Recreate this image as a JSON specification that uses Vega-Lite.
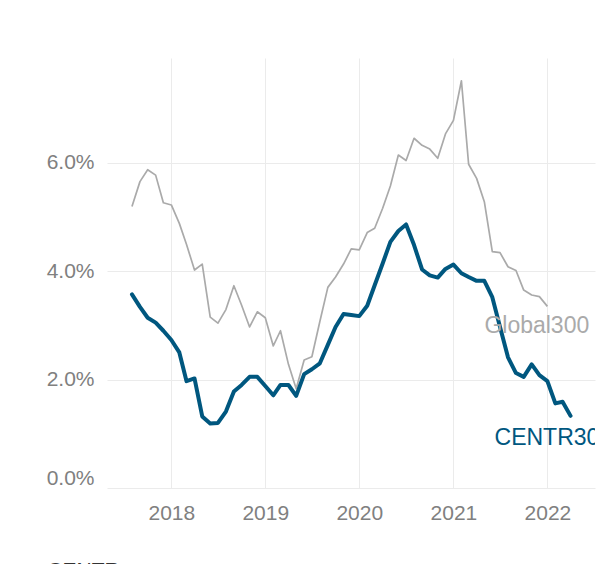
{
  "$schema": "https://vega.github.io/schema/vega-lite/v6.json",
  "width": 488,
  "height": 430,
  "autosize": {"type": "none"},
  "padding": {"left": 107, "top": 58, "right": 8, "bottom": 76},
  "background": "#ffffff",
  "title": {
    "text": "Source: CENTR",
    "orient": "bottom",
    "anchor": "start",
    "dx": -77,
    "offset": 37,
    "fontSize": 21,
    "fontWeight": "normal",
    "font": "Liberation Sans",
    "color": "#333333"
  },
  "config": {
    "view": {"stroke": null},
    "axis": {
      "grid": true,
      "gridColor": "#ebebeb",
      "gridWidth": 1,
      "domain": false,
      "ticks": false,
      "tickSize": 0,
      "labelColor": "#808080",
      "labelFont": "Liberation Sans",
      "labelFontSize": 21,
      "title": null
    }
  },
  "data": {
    "values": [
      {"date": "2017-08-01", "series": "Global300", "value": 5.19},
      {"date": "2017-09-01", "series": "Global300", "value": 5.65},
      {"date": "2017-10-01", "series": "Global300", "value": 5.87},
      {"date": "2017-11-01", "series": "Global300", "value": 5.77},
      {"date": "2017-12-01", "series": "Global300", "value": 5.26},
      {"date": "2018-01-01", "series": "Global300", "value": 5.22},
      {"date": "2018-02-01", "series": "Global300", "value": 4.88},
      {"date": "2018-03-01", "series": "Global300", "value": 4.49},
      {"date": "2018-04-01", "series": "Global300", "value": 4.02},
      {"date": "2018-05-01", "series": "Global300", "value": 4.13},
      {"date": "2018-06-01", "series": "Global300", "value": 3.15},
      {"date": "2018-07-01", "series": "Global300", "value": 3.04},
      {"date": "2018-08-01", "series": "Global300", "value": 3.29},
      {"date": "2018-09-01", "series": "Global300", "value": 3.73},
      {"date": "2018-10-01", "series": "Global300", "value": 3.37},
      {"date": "2018-11-01", "series": "Global300", "value": 2.97},
      {"date": "2018-12-01", "series": "Global300", "value": 3.25},
      {"date": "2019-01-01", "series": "Global300", "value": 3.14},
      {"date": "2019-02-01", "series": "Global300", "value": 2.62},
      {"date": "2019-03-01", "series": "Global300", "value": 2.90},
      {"date": "2019-04-01", "series": "Global300", "value": 2.28},
      {"date": "2019-05-01", "series": "Global300", "value": 1.83},
      {"date": "2019-06-01", "series": "Global300", "value": 2.36},
      {"date": "2019-07-01", "series": "Global300", "value": 2.42},
      {"date": "2019-08-01", "series": "Global300", "value": 3.07},
      {"date": "2019-09-01", "series": "Global300", "value": 3.70},
      {"date": "2019-10-01", "series": "Global300", "value": 3.89},
      {"date": "2019-11-01", "series": "Global300", "value": 4.13},
      {"date": "2019-12-01", "series": "Global300", "value": 4.41},
      {"date": "2020-01-01", "series": "Global300", "value": 4.39},
      {"date": "2020-02-01", "series": "Global300", "value": 4.71},
      {"date": "2020-03-01", "series": "Global300", "value": 4.79},
      {"date": "2020-04-01", "series": "Global300", "value": 5.16},
      {"date": "2020-05-01", "series": "Global300", "value": 5.57},
      {"date": "2020-06-01", "series": "Global300", "value": 6.14},
      {"date": "2020-07-01", "series": "Global300", "value": 6.04},
      {"date": "2020-08-01", "series": "Global300", "value": 6.45},
      {"date": "2020-09-01", "series": "Global300", "value": 6.32},
      {"date": "2020-10-01", "series": "Global300", "value": 6.25},
      {"date": "2020-11-01", "series": "Global300", "value": 6.08},
      {"date": "2020-12-01", "series": "Global300", "value": 6.53},
      {"date": "2021-01-01", "series": "Global300", "value": 6.78},
      {"date": "2021-02-01", "series": "Global300", "value": 7.51},
      {"date": "2021-03-01", "series": "Global300", "value": 5.97},
      {"date": "2021-04-01", "series": "Global300", "value": 5.71},
      {"date": "2021-05-01", "series": "Global300", "value": 5.28},
      {"date": "2021-06-01", "series": "Global300", "value": 4.36},
      {"date": "2021-07-01", "series": "Global300", "value": 4.34},
      {"date": "2021-08-01", "series": "Global300", "value": 4.08},
      {"date": "2021-09-01", "series": "Global300", "value": 4.01},
      {"date": "2021-10-01", "series": "Global300", "value": 3.65},
      {"date": "2021-11-01", "series": "Global300", "value": 3.56},
      {"date": "2021-12-01", "series": "Global300", "value": 3.53},
      {"date": "2022-01-01", "series": "Global300", "value": 3.35},
      {"date": "2017-08-01", "series": "CENTR300", "value": 3.57},
      {"date": "2017-09-01", "series": "CENTR300", "value": 3.34},
      {"date": "2017-10-01", "series": "CENTR300", "value": 3.14},
      {"date": "2017-11-01", "series": "CENTR300", "value": 3.05},
      {"date": "2017-12-01", "series": "CENTR300", "value": 2.90},
      {"date": "2018-01-01", "series": "CENTR300", "value": 2.73},
      {"date": "2018-02-01", "series": "CENTR300", "value": 2.50},
      {"date": "2018-03-01", "series": "CENTR300", "value": 1.97},
      {"date": "2018-04-01", "series": "CENTR300", "value": 2.02},
      {"date": "2018-05-01", "series": "CENTR300", "value": 1.32},
      {"date": "2018-06-01", "series": "CENTR300", "value": 1.19},
      {"date": "2018-07-01", "series": "CENTR300", "value": 1.20},
      {"date": "2018-08-01", "series": "CENTR300", "value": 1.41},
      {"date": "2018-09-01", "series": "CENTR300", "value": 1.78},
      {"date": "2018-10-01", "series": "CENTR300", "value": 1.90},
      {"date": "2018-11-01", "series": "CENTR300", "value": 2.05},
      {"date": "2018-12-01", "series": "CENTR300", "value": 2.05},
      {"date": "2019-01-01", "series": "CENTR300", "value": 1.88},
      {"date": "2019-02-01", "series": "CENTR300", "value": 1.71},
      {"date": "2019-03-01", "series": "CENTR300", "value": 1.90},
      {"date": "2019-04-01", "series": "CENTR300", "value": 1.90},
      {"date": "2019-05-01", "series": "CENTR300", "value": 1.70},
      {"date": "2019-06-01", "series": "CENTR300", "value": 2.10},
      {"date": "2019-07-01", "series": "CENTR300", "value": 2.19},
      {"date": "2019-08-01", "series": "CENTR300", "value": 2.30},
      {"date": "2019-09-01", "series": "CENTR300", "value": 2.64},
      {"date": "2019-10-01", "series": "CENTR300", "value": 2.97},
      {"date": "2019-11-01", "series": "CENTR300", "value": 3.21},
      {"date": "2019-12-01", "series": "CENTR300", "value": 3.19},
      {"date": "2020-01-01", "series": "CENTR300", "value": 3.17},
      {"date": "2020-02-01", "series": "CENTR300", "value": 3.36},
      {"date": "2020-03-01", "series": "CENTR300", "value": 3.74},
      {"date": "2020-04-01", "series": "CENTR300", "value": 4.14},
      {"date": "2020-05-01", "series": "CENTR300", "value": 4.54},
      {"date": "2020-06-01", "series": "CENTR300", "value": 4.74},
      {"date": "2020-07-01", "series": "CENTR300", "value": 4.86},
      {"date": "2020-08-01", "series": "CENTR300", "value": 4.48},
      {"date": "2020-09-01", "series": "CENTR300", "value": 4.03},
      {"date": "2020-10-01", "series": "CENTR300", "value": 3.92},
      {"date": "2020-11-01", "series": "CENTR300", "value": 3.88},
      {"date": "2020-12-01", "series": "CENTR300", "value": 4.04},
      {"date": "2021-01-01", "series": "CENTR300", "value": 4.12},
      {"date": "2021-02-01", "series": "CENTR300", "value": 3.96},
      {"date": "2021-03-01", "series": "CENTR300", "value": 3.89},
      {"date": "2021-04-01", "series": "CENTR300", "value": 3.82},
      {"date": "2021-05-01", "series": "CENTR300", "value": 3.82},
      {"date": "2021-06-01", "series": "CENTR300", "value": 3.52},
      {"date": "2021-07-01", "series": "CENTR300", "value": 2.97},
      {"date": "2021-08-01", "series": "CENTR300", "value": 2.41},
      {"date": "2021-09-01", "series": "CENTR300", "value": 2.12},
      {"date": "2021-10-01", "series": "CENTR300", "value": 2.05},
      {"date": "2021-11-01", "series": "CENTR300", "value": 2.28},
      {"date": "2021-12-01", "series": "CENTR300", "value": 2.08},
      {"date": "2022-01-01", "series": "CENTR300", "value": 1.97},
      {"date": "2022-02-01", "series": "CENTR300", "value": 1.56},
      {"date": "2022-03-01", "series": "CENTR300", "value": 1.59},
      {"date": "2022-04-01", "series": "CENTR300", "value": 1.33}
    ]
  },
  "encoding": {
    "x": {
      "field": "date",
      "type": "temporal",
      "scale": {
        "domain": [
          {"year": 2017, "month": 4, "date": 26},
          {"year": 2022, "month": 7, "date": 5}
        ]
      },
      "axis": {
        "format": "%Y",
        "tickCount": "year",
        "labelPadding": 14,
        "labelFlush": false
      }
    },
    "y": {
      "field": "value",
      "type": "quantitative",
      "scale": {"domain": [0, 7.93], "nice": false, "zero": true},
      "axis": {
        "values": [0, 2, 4, 6],
        "labelExpr": "format(datum.value, '.1f') + '%'",
        "labelPadding": 13,
        "labelFlush": true
      }
    }
  },
  "layer": [
    {
      "transform": [{"filter": "datum.series === 'Global300'"}],
      "mark": {"type": "line", "color": "#aaaaaa", "strokeWidth": 1.7, "strokeJoin": "round"}
    },
    {
      "transform": [{"filter": "datum.series === 'CENTR300'"}],
      "mark": {"type": "line", "color": "#00577f", "strokeWidth": 4, "strokeJoin": "round", "strokeCap": "round"}
    },
    {
      "transform": [
        {"joinaggregate": [{"op": "max", "field": "date", "as": "lastDate"}], "groupby": ["series"]},
        {"filter": "datum.series === 'Global300' && time(datum.date) === time(datum.lastDate)"}
      ],
      "mark": {"type": "text", "clip": true, "align": "left", "baseline": "middle", "dx": -63, "dy": 20, "fontSize": 23, "font": "Liberation Sans", "color": "#aaaaaa"},
      "encoding": {"text": {"field": "series"}}
    },
    {
      "transform": [
        {"joinaggregate": [{"op": "max", "field": "date", "as": "lastDate"}], "groupby": ["series"]},
        {"filter": "datum.series === 'CENTR300' && time(datum.date) === time(datum.lastDate)"}
      ],
      "mark": {"type": "text", "clip": true, "align": "left", "baseline": "middle", "dx": -76, "dy": 22, "fontSize": 23, "font": "Liberation Sans", "color": "#00577f"},
      "encoding": {"text": {"field": "series"}}
    }
  ]
}
